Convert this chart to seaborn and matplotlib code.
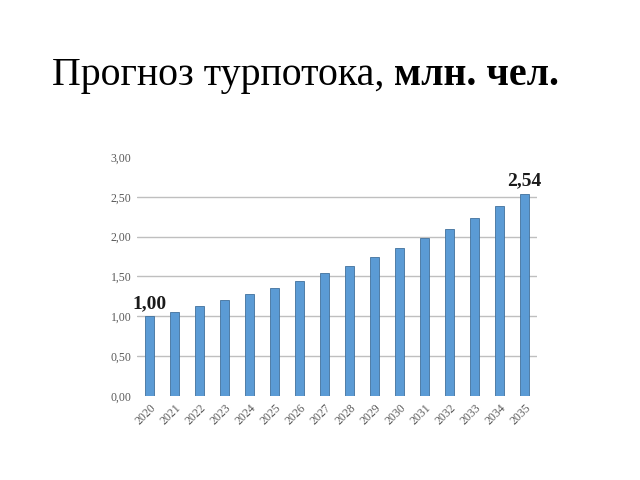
import matplotlib
matplotlib.use("Agg")
import matplotlib.pyplot as plt
import seaborn as sns
import pandas as pd

years = ["2020", "2021", "2022", "2023", "2024", "2025", "2026", "2027",
         "2028", "2029", "2030", "2031", "2032", "2033", "2034", "2035"]
values = [1.00, 1.05, 1.13, 1.20, 1.28, 1.36, 1.44, 1.54,
          1.63, 1.74, 1.86, 1.98, 2.10, 2.23, 2.38, 2.54]
yticks = [0.0, 0.5, 1.0, 1.5, 2.0, 2.5, 3.0]
title_normal = "Прогноз турпотока, "
title_bold = "млн. чел."

sns.set_theme(style="white")
plt.rcParams['font.family'] = ['Liberation Serif', 'DejaVu Serif']

df = pd.DataFrame({"year": years, "value": values})

fig = plt.figure(figsize=(6.4, 4.8), dpi=100)
ax = fig.add_axes([0.214, 0.175, 0.625, 0.498])

sns.barplot(data=df, x="year", y="value", color="#5B9BD5", width=0.33,
            saturation=1, edgecolor="#41719C", linewidth=0.6, ax=ax)

ax.set_xlim(-0.5, len(years) - 0.5)
ax.set_ylim(0, 3.0)
ax.set_yticks(yticks)
ax.set_yticklabels([f"{t:.2f}".replace(".", ",") for t in yticks],
                   fontsize=8.5, color="#595959")
ax.set_xticks(range(len(years)))
ax.set_xticklabels(years, rotation=45, ha="right", rotation_mode="anchor",
                   fontsize=8.5, color="#595959")
ax.tick_params(axis="both", length=0, pad=4)
ax.set_xlabel("")
ax.set_ylabel("")
for t in yticks[1:-1]:
    ax.axhline(t, color="#BFBFBF", linewidth=1, zorder=0)
for s in ax.spines.values():
    s.set_visible(False)

ax.text(0, values[0] + 0.05, "1,00", ha="center", va="bottom",
        fontsize=14, fontweight="bold", color="#1a1a1a")
ax.text(len(years) - 1, values[-1] + 0.05, "2,54", ha="center", va="bottom",
        fontsize=14, fontweight="bold", color="#1a1a1a")

t1 = fig.text(0.081, 0.823, title_normal, fontsize=28.7, va="baseline",
              ha="left", color="black")
fig.canvas.draw()
bb = t1.get_window_extent()
x1 = bb.x1 / fig.bbox.width
fig.text(x1, 0.823, title_bold, fontsize=28.7, fontweight="bold",
         va="baseline", ha="left", color="black")

fig.savefig("out.png", dpi=100)
